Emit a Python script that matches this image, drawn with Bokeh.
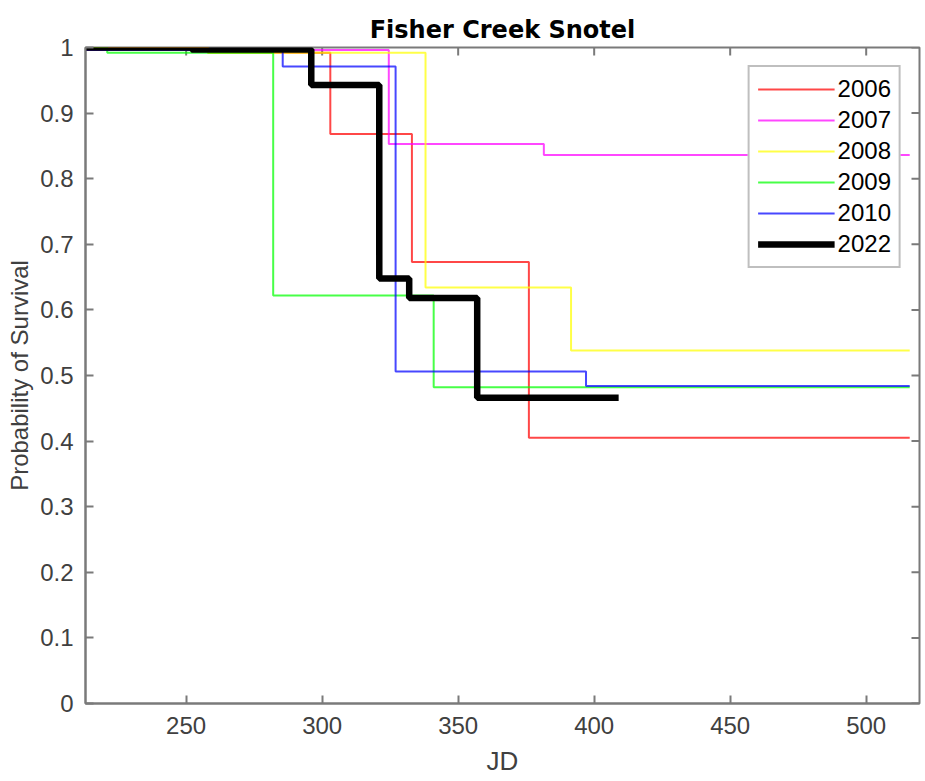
import math
from bokeh.plotting import figure
from bokeh.models import Range1d, Legend, LegendItem, FixedTicker
from bokeh.embed import file_html
from bokeh.resources import INLINE

# ---- data ----
years = ["2006", "2007", "2008", "2009", "2010", "2022"]
colors = ["#ff0000", "#ff00ff", "#ffff00", "#00ff00", "#0000ff", "#000000"]

jd_2006 = [213, 258, 303, 333, 376, 516]
surv_2006 = [1.0, 0.992, 0.868, 0.673, 0.405, 0.405]

jd_2007 = [213, 324.5, 381.5, 516]
surv_2007 = [0.996, 0.853, 0.836, 0.836]

jd_2008 = [213, 258, 338, 391.5, 516]
surv_2008 = [1.0, 0.992, 0.634, 0.538, 0.538]

jd_2009 = [213, 221, 282, 341, 516]
surv_2009 = [1.0, 0.992, 0.622, 0.482, 0.482]

jd_2010 = [213, 285.5, 327, 397, 516]
surv_2010 = [0.996, 0.971, 0.506, 0.484, 0.484]

jd_2022 = [213, 252, 296, 321, 332, 357, 409]
surv_2022 = [1.0, 0.997, 0.943, 0.648, 0.618, 0.466, 0.466]

x_min, x_max = 213, 519.6
y_min, y_max = 0, 1
x_ticks = [250, 300, 350, 400, 450, 500]
y_ticks = [0, 0.1, 0.2, 0.3, 0.4, 0.5, 0.6, 0.7, 0.8, 0.9, 1]
y_tick_labels = ["0", "0.1", "0.2", "0.3", "0.4", "0.5", "0.6", "0.7", "0.8", "0.9", "1"]

series_x = [jd_2006, jd_2007, jd_2008, jd_2009, jd_2010, jd_2022]
series_y = [surv_2006, surv_2007, surv_2008, surv_2009, surv_2010, surv_2022]

FONT = "Liberation Sans"
AXIS_COLOR = "#7a7a7a"
TEXT_COLOR = "#404040"

p = figure(width=925, height=781, output_backend="svg", toolbar_location=None,
           x_range=Range1d(x_min, x_max), y_range=Range1d(y_min, y_max),
           min_border_left=85, min_border_right=6, min_border_top=47,
           min_border_bottom=78)

p.background_fill_color = "white"
p.border_fill_color = "white"
p.outline_line_color = AXIS_COLOR
p.outline_line_width = 2
p.xgrid.visible = False
p.ygrid.visible = False

p.title.text = "Fisher Creek Snotel"
p.title.align = "center"
p.title.text_font = "DejaVu Sans"
p.title.text_font_size = "24px"
p.title.text_font_style = "bold"
p.title.text_color = "#000000"
p.title.standoff = 8

xa = p.xaxis[0]
xa.ticker = FixedTicker(ticks=x_ticks)
xa.axis_label = "JD"
ya = p.yaxis[0]
ya.ticker = FixedTicker(ticks=y_ticks)
ya.major_label_overrides = {t: s for t, s in zip(y_ticks, y_tick_labels)}
ya.axis_label = "Probability of Survival"

for ax in (xa, ya):
    ax.axis_line_color = AXIS_COLOR
    ax.axis_line_width = 2
    ax.major_tick_line_color = AXIS_COLOR
    ax.major_tick_line_width = 2
    ax.major_tick_in = 8
    ax.major_tick_out = 0
    ax.minor_tick_in = 0
    ax.minor_tick_out = 0
    ax.major_label_text_font = FONT
    ax.major_label_text_font_size = "24px"
    ax.major_label_text_color = TEXT_COLOR
    ax.axis_label_text_font = FONT
    ax.axis_label_text_font_style = "normal"
    ax.axis_label_text_color = TEXT_COLOR
xa.major_label_standoff = 13
xa.axis_label_text_font_size = "26px"
xa.axis_label_standoff = 9
ya.major_label_standoff = 12
ya.axis_label_text_font_size = "24px"
ya.axis_label_standoff = 4

# box-style inward ticks on the top and right edges (markers half-clipped by the frame)
p.scatter(x=x_ticks, y=[y_max] * len(x_ticks), marker="dash", size=16, angle=math.pi / 2,
          line_color=AXIS_COLOR, line_width=2)
p.scatter(x=[x_max] * len(y_ticks), y=y_ticks, marker="dash", size=16,
          line_color=AXIS_COLOR, line_width=2)

renderers = []
for xs, ys, c, yr in zip(series_x, series_y, colors, years):
    if yr == "2022":
        r = p.step(xs, ys, mode="after", line_color=c, line_width=6.5)
    else:
        r = p.step(xs, ys, mode="after", line_color=c, line_width=2, line_alpha=0.72)
    renderers.append(r)

legend = Legend(items=[LegendItem(label=yr, renderers=[r]) for yr, r in zip(years, renderers)],
                location="top_right")
legend.margin = 18
legend.padding = 8
legend.spacing = 3
legend.label_standoff = 3
legend.glyph_width = 77
legend.glyph_height = 28
legend.label_height = 28
legend.label_text_font = FONT
legend.label_text_font_size = "24px"
legend.label_text_color = "#000000"
legend.border_line_color = "#808080"
legend.border_line_width = 2
legend.background_fill_color = "white"
legend.background_fill_alpha = 1.0
p.add_layout(legend)

open("out.html", "w").write(file_html(p, INLINE))
